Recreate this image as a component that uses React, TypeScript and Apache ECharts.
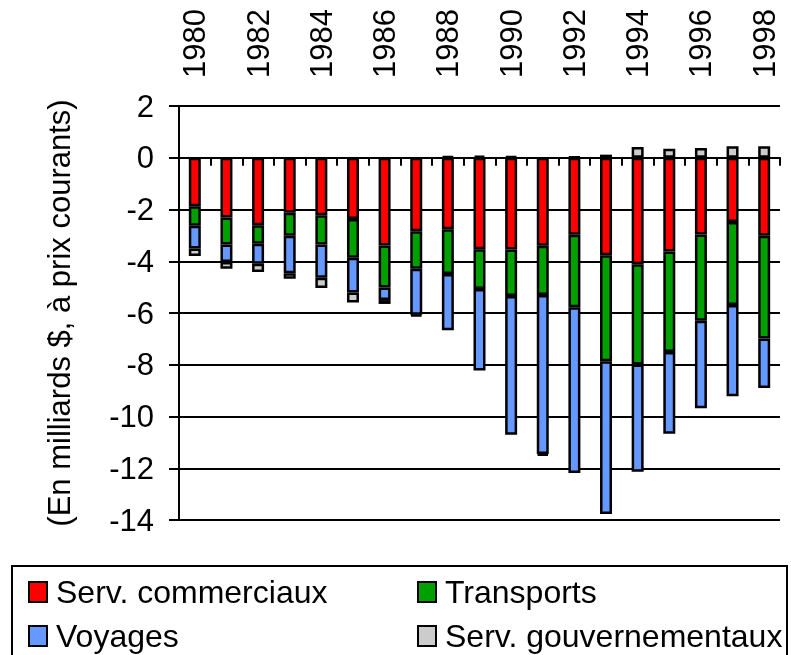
import React, { useEffect, useRef } from "react";
import * as echarts from "echarts";

const years = ["1980","1981","1982","1983","1984","1985","1986","1987","1988","1989","1990","1991","1992","1993","1994","1995","1996","1997","1998"];
const servCommerciaux = [-1.87,-2.31,-2.61,-2.13,-2.22,-2.37,-3.39,-2.84,-2.76,-3.54,-3.55,-3.40,-2.98,-3.77,-4.12,-3.62,-2.97,-2.48,-3.01];
const transports = [-0.76,-1.04,-0.71,-0.88,-1.13,-1.49,-1.62,-1.45,-1.73,-1.53,-1.79,-1.90,-2.80,-4.09,-3.87,-3.89,-3.33,-3.21,-3.98];
const voyages = [-0.88,-0.68,-0.78,-1.45,-1.29,-1.35,-0.49,-1.78,-2.18,-3.15,-5.37,-6.15,-6.40,-5.91,-4.15,-3.16,-3.38,-3.53,-1.91];
const servGouv = [-0.29,-0.26,-0.32,-0.22,-0.39,-0.38,-0.15,-0.05,0.05,0.08,0.05,-0.06,0.03,0.12,0.42,0.35,0.38,0.44,0.44];
const seriesNames = ["Serv. commerciaux", "Transports", "Voyages", "Serv. gouvernementaux"];
const seriesColors = ["#FF0000", "#00A000", "#6699FF", "#CCCCCC"];
const yTitle = "(En milliards $, à prix courants)";

const FONT = "Liberation Sans, Arial, sans-serif";

export default function App() {
  const ref = useRef<HTMLDivElement>(null);
  useEffect(() => {
    if (!ref.current) return;
    const chart = echarts.init(ref.current, null, { renderer: "svg" });
    const values = [servCommerciaux, transports, voyages, servGouv];
    const legendPos = [
      { left: 28, top: 576 },
      { left: 417, top: 576 },
      { left: 28, top: 620 },
      { left: 417, top: 620 },
    ];
    chart.setOption({
      animation: false,
      textStyle: { fontFamily: FONT },
      grid: { left: 179, right: 11, top: 106, bottom: 135 },
      xAxis: [
        {
          type: "category",
          data: years,
          position: "top",
          axisLine: { show: false, onZero: false },
          axisTick: { show: false },
          axisLabel: {
            interval: 1,
            rotate: -90,
            margin: 28,
            fontSize: 31,
            color: "#000",
            fontFamily: FONT,
          },
        },
        {
          type: "category",
          data: years,
          position: "bottom",
          axisLine: { show: true, onZero: true, lineStyle: { color: "#000", width: 2 } },
          axisTick: { show: true, interval: 0, length: 8, lineStyle: { color: "#000", width: 2 } },
          axisLabel: { show: false },
        },
      ],
      yAxis: {
        type: "value",
        min: -14,
        max: 2,
        interval: 2,
        name: yTitle,
        nameLocation: "middle",
        nameGap: 104,
        nameTextStyle: { fontSize: 31, color: "#000", fontFamily: FONT },
        axisLine: { show: true, lineStyle: { color: "#000", width: 2 } },
        axisTick: { show: true, length: 10, lineStyle: { color: "#000", width: 2 } },
        axisLabel: { fontSize: 31, color: "#000", margin: 25, fontFamily: FONT },
        splitLine: { show: true, lineStyle: { color: "#000", width: 2 } },
      },
      legend: seriesNames.map((n, i) => ({
        data: [{ name: n, icon: "rect" }],
        left: legendPos[i].left,
        top: legendPos[i].top,
        padding: 0,
        itemWidth: 18,
        itemHeight: 20,
        itemGap: 0,
        textStyle: { fontSize: 32, color: "#000", fontFamily: FONT, padding: [0, 0, 0, 4] },
        selectedMode: false,
      })),
      graphic: [
        {
          type: "rect",
          shape: { x: 12, y: 566, width: 775, height: 100 },
          style: { fill: "none", stroke: "#000", lineWidth: 2 },
          silent: true,
        },
      ],
      series: seriesNames.map((n, i) => ({
        name: n,
        type: "bar",
        stack: "total",
        barWidth: 12,
        data: values[i],
        itemStyle: { color: seriesColors[i], borderColor: "#000", borderWidth: 2.5 },
      })),
    });
    return () => chart.dispose();
  }, []);
  return <div ref={ref} style={{ position: "fixed", left: 0, top: 0, width: 791, height: 655 }} />;
}
